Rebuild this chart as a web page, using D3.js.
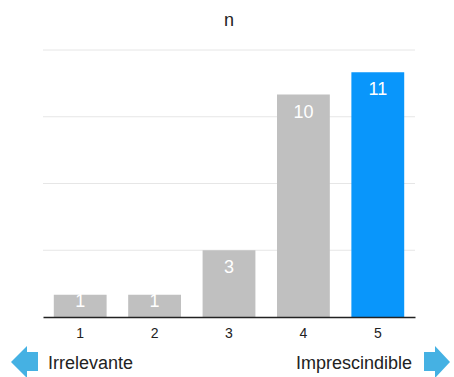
<!DOCTYPE html>
<html>
<head>
<meta charset="utf-8">
<script src="https://cdn.jsdelivr.net/npm/d3@7"></script>
<style>
  html, body { margin: 0; padding: 0; background: #fff; }
  svg { display: block; font-family: "Liberation Sans", Arial, Helvetica, sans-serif; }
</style>
</head>
<body>
<svg id="chart" width="454" height="377"></svg>
<script>
// Responses on a 1–5 scale and how many people picked each
const categories = ["1", "2", "3", "4", "5"];
const counts = [1, 1, 3, 10, 11];
const gridTicks = [3, 6, 9, 12];
const highlighted = "5";
const chartTitle = "n";
const lowLabel = "Irrelevante";
const highLabel = "Imprescindible";

const svg = d3.select("#chart");
const plotLeft = 43, plotRight = 415, plotTop = 50, plotBase = 317;

const x = d3.scaleBand().domain(categories).range([plotLeft, plotRight])
  .paddingInner(0.29).paddingOuter(0.145);
const y = d3.scaleLinear().domain([0, 12]).range([plotBase, plotTop]);

// horizontal guide lines
svg.append("g")
  .selectAll("line")
  .data(gridTicks)
  .join("line")
  .attr("x1", plotLeft).attr("x2", plotRight)
  .attr("y1", d => y(d)).attr("y2", d => y(d))
  .attr("stroke", "#e6e6e6").attr("stroke-width", 1);

// bars
svg.append("g")
  .selectAll("rect")
  .data(categories)
  .join("rect")
  .attr("x", d => x(d))
  .attr("y", (d, i) => y(counts[i]))
  .attr("width", x.bandwidth())
  .attr("height", (d, i) => plotBase - y(counts[i]))
  .attr("fill", d => d === highlighted ? "#0996fb" : "#c0c0c0");

// value labels inside the bars (white text; the part above a short bar disappears on the white page)
svg.append("g")
  .selectAll("text")
  .data(categories)
  .join("text")
  .attr("x", d => x(d) + x.bandwidth() / 2)
  .attr("y", (d, i) => Math.min(y(counts[i]) + 23, plotBase - 10))
  .attr("text-anchor", "middle")
  .attr("fill", "#fff")
  .attr("font-size", 18)
  .text((d, i) => counts[i]);

// category axis
const xAxis = svg.append("g")
  .attr("transform", `translate(0,${plotBase})`)
  .call(d3.axisBottom(x).tickSize(0).tickPadding(11));
xAxis.select(".domain").attr("stroke", "#222").attr("stroke-width", 1.6);
xAxis.selectAll("text")
  .attr("font-size", 14)
  .attr("fill", "#222")
  .attr("font-family", "'Liberation Sans', Arial, sans-serif");

// title
svg.append("text")
  .attr("x", (plotLeft + plotRight) / 2)
  .attr("y", 26)
  .attr("text-anchor", "middle")
  .attr("font-size", 18)
  .attr("fill", "#222")
  .text(chartTitle);

// scale end descriptions with arrows
const arrowColor = "#45b1e3";
svg.append("path")
  .attr("d", "M11,362 L27,346 L27,352 L38,352 L38,371 L27,371 L27,378 Z")
  .attr("fill", arrowColor);
svg.append("path")
  .attr("d", "M450,362 L435,346 L435,352 L424,352 L424,371 L435,371 L435,378 Z")
  .attr("fill", arrowColor);

svg.append("text")
  .attr("x", 48).attr("y", 369)
  .attr("font-size", 18).attr("fill", "#222")
  .text(lowLabel);
svg.append("text")
  .attr("x", 412).attr("y", 369)
  .attr("text-anchor", "end")
  .attr("font-size", 18).attr("fill", "#222")
  .text(highLabel);
</script>
</body>
</html>
